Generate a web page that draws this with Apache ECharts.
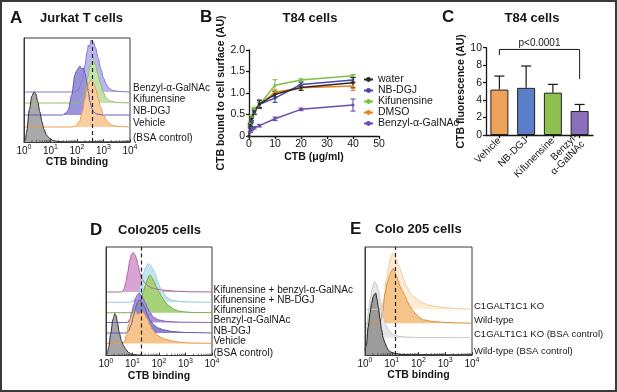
<!DOCTYPE html>
<html>
<head>
<meta charset="utf-8">
<script src="https://cdn.jsdelivr.net/npm/echarts@6/dist/echarts.min.js"></script>
<style>
  html, body { margin: 0; padding: 0; background: #fff; }
  #chart { width: 617px; height: 392px; }
</style>
</head>
<body>
<div id="chart"></div>
<script>
(function() {
  const chart = echarts.init(document.getElementById('chart'));
  const FONT = '"Liberation Sans", Arial, Helvetica, sans-serif';
  const INK = '#161616';

  // A - Jurkat T cells. x = log10(CTB binding), y = events (arbitrary units)
  const jurkatLabels = ['Benzyl-α-GalNAc', 'Kifunensine', 'NB-DGJ', 'Vehicle', '(BSA control)'];
  const jurkatBenzyl = [[0,0],[1.9,0],[2.05,2],[2.18,10],[2.3,27],[2.38,40],[2.43,47],[2.47,45],[2.53,52],[2.58,50],[2.63,49],[2.7,44],[2.8,34],[2.9,23],[3.0,14],[3.1,8],[3.2,4],[3.35,1.5],[3.6,0.5],[4,0]];
  const jurkatKif = [[0,0],[2.0,0],[2.2,3],[2.3,10],[2.4,25],[2.48,36],[2.55,41],[2.62,42],[2.7,38],[2.78,30],[2.88,20],[2.98,11],[3.1,5],[3.25,2],[3.5,0.5],[4,0]];
  const jurkatNBDGJ = [[0,0],[1.45,0],[1.58,2],[1.67,5],[1.8,20],[1.92,40],[1.98,44],[2.05,47],[2.11,49],[2.18,46],[2.24,47],[2.3,42],[2.37,33],[2.43,23],[2.49,13],[2.56,7],[2.62,3],[2.75,1],[3.0,0],[4,0]];
  const jurkatVehicle = [[0,0],[1.8,0],[1.95,1],[2.1,6],[2.2,15],[2.3,28],[2.38,39],[2.45,44],[2.5,46],[2.55,47],[2.6,45],[2.66,42],[2.72,37],[2.8,29],[2.9,19],[3.0,12],[3.1,7],[3.2,4],[3.35,1.5],[3.6,0.5],[4,0]];
  const jurkatBSA = [[0,0],[0.05,2],[0.1,10],[0.2,32],[0.3,46],[0.38,50],[0.45,48],[0.52,40],[0.6,30],[0.68,20],[0.75,13],[0.85,7],[0.95,4],[1.1,1.5],[1.3,0.5],[1.6,0],[4,0]];
  const jurkatCutoff = 2.57;

  // B - T84 cells, dose response
  const ctbDose = [0, 0.5, 1, 2, 4, 10, 20, 40];
  const t84Names = ['water', 'NB-DGJ', 'Kifunensine', 'DMSO', 'Benzyl-α-GalNAc'];
  const t84Water = [0, 0.25, 0.40, 0.57, 0.74, 0.97, 1.13, 1.24];
  const t84WaterSd = [0, 0.04, 0.05, 0.06, 0.08, 0.06, 0.07, 0.12];
  const t84NBDGJ = [0, 0.22, 0.36, 0.55, 0.74, 0.88, 1.20, 1.30];
  const t84NBDGJSd = [0, 0.04, 0.05, 0.05, 0.10, 0.10, 0.05, 0.06];
  const t84Kif = [0, 0.28, 0.44, 0.62, 0.72, 1.18, 1.30, 1.40];
  const t84KifSd = [0, 0.04, 0.04, 0.05, 0.05, 0.13, 0.03, 0.03];
  const t84DMSO = [0, 0.24, 0.40, 0.55, 0.72, 1.02, 1.12, 1.16];
  const t84DMSOSd = [0, 0.04, 0.05, 0.05, 0.06, 0.05, 0.05, 0.10];
  const t84Benzyl = [0, 0.10, 0.14, 0.19, 0.24, 0.40, 0.62, 0.72];
  const t84BenzylSd = [0, 0.02, 0.02, 0.03, 0.03, 0.04, 0.03, 0.14];

  // C - T84 cells, CTB fluorescence
  const t84Groups = ['Vehicle', 'NB-DGJ', 'Kifunensine', 'Benzyl-\nα-GalNAc'];
  const t84Fluor = [5.2, 5.4, 4.85, 2.75];
  const t84FluorSd = [1.55, 2.5, 0.95, 0.75];
  const t84Bracket = [[0, 3, 9.8, 9.15, 6.4]];
  const t84P = 'p<0.0001';

  // D - Colo205 cells
  const coloLabels = ['Kifunensine + benzyl-α-GalNAc', 'Kifunensine + NB-DGJ', 'Kifunensine', 'Benzyl-α-GalNAc', 'NB-DGJ', 'Vehicle', '(BSA control)'];
  const coloKifBenzyl = [[0,0],[0.6,0],[0.68,3],[0.75,10],[0.82,20],[0.9,32],[0.97,38],[1.03,39.5],[1.1,37],[1.16,33],[1.22,26],[1.28,19],[1.36,13],[1.47,9],[1.6,6],[1.72,4],[2.0,2.5],[2.3,1.5],[2.7,0.7],[3.2,0.2],[4,0]];
  const coloKifNBDGJ = [[0,0],[0.9,0],[1.05,2],[1.15,5],[1.22,9],[1.32,19],[1.41,29],[1.5,35],[1.6,39],[1.67,37],[1.75,34],[1.85,29],[1.95,21],[2.04,15],[2.15,10],[2.29,5],[2.5,2],[2.8,0.8],[3.2,0.2],[4,0]];
  const coloKif = [[0,0],[1.0,0],[1.1,2],[1.2,6],[1.3,12],[1.4,20],[1.48,27],[1.56,33],[1.62,37],[1.68,37.5],[1.74,35],[1.82,31],[1.9,26],[2.0,21],[2.1,16],[2.25,10],[2.42,6],[2.6,3],[2.8,1.2],[3.2,0.3],[4,0]];
  const coloBenzyl = [[0,0],[0.8,0],[0.9,3],[0.97,10],[1.05,18],[1.13,25],[1.2,28],[1.27,29],[1.33,27],[1.4,24],[1.48,20],[1.56,15],[1.66,10],[1.8,5],[2.0,2.5],[2.3,1],[2.8,0.3],[4,0]];
  const coloNBDGJ = [[0,0],[0.75,0],[0.85,2],[0.95,8],[1.03,16],[1.1,24],[1.18,30],[1.25,33],[1.32,32],[1.4,29],[1.47,25],[1.55,19],[1.66,13],[1.8,8],[1.97,5],[2.2,3],[2.5,1.5],[3,0.5],[4,0]];
  const coloVehicle = [[0,0],[0.6,0],[0.7,2],[0.78,9],[0.85,19],[0.93,26],[1.0,30],[1.08,33],[1.14,31],[1.2,29],[1.27,30],[1.33,31],[1.4,32],[1.46,29],[1.55,25],[1.65,19],[1.75,14],[1.88,10],[2.0,7],[2.2,4.5],[2.5,2.5],[2.8,1.2],[3.2,0.5],[4,0]];
  const coloBSA = [[0,0],[0.05,2],[0.1,8],[0.18,22],[0.26,36],[0.33,42],[0.38,40],[0.44,32],[0.5,23],[0.58,15],[0.66,10],[0.75,6],[0.85,3],[1.0,1],[1.3,0.3],[1.6,0],[4,0]];
  const coloCutoff = 1.32;

  // E - Colo 205 cells, C1GALT1C1 knockout
  const koLabels = ['C1GALT1C1 KO', 'Wild-type', 'C1GALT1C1 KO (BSA control)', 'Wild-type (BSA control)'];
  const koCtb = [[0,0],[0.5,0],[0.6,1],[0.7,8],[0.8,30],[0.88,42],[0.96,51],[1.02,55],[1.06,56],[1.12,53],[1.18,49],[1.27,43],[1.37,36],[1.46,29],[1.56,22.5],[1.68,17],[1.81,12.7],[2.0,9],[2.18,6],[2.4,4.2],[2.68,2.7],[3.0,1.6],[3.3,1],[3.7,0.4],[4,0]];
  const wtCtb = [[0,0],[0.5,0],[0.58,2],[0.66,12],[0.75,30],[0.83,40],[0.91,47],[0.98,52],[1.06,55],[1.12,51],[1.18,47],[1.25,42],[1.31,37],[1.4,32],[1.5,27],[1.6,21],[1.68,17],[1.8,12],[1.93,8.5],[2.05,5.5],[2.18,3.5],[2.5,2],[2.9,1],[3.4,0.4],[4,0]];
  const koBSA = [[0,3],[0.06,11],[0.12,24],[0.19,38],[0.26,48],[0.33,55],[0.37,56],[0.42,54],[0.5,48],[0.58,36],[0.68,21],[0.78,13],[0.87,8],[0.96,5],[1.06,3],[1.25,1.5],[1.5,0.7],[2,0.2],[4,0]];
  const wtBSA = [[0,4],[0.05,10],[0.12,28],[0.19,42],[0.25,52],[0.3,58],[0.36,61],[0.4,62],[0.45,56],[0.5,48],[0.56,36],[0.62,25],[0.68,17],[0.75,12],[0.81,8],[0.87,5],[0.96,3],[1.06,2],[1.3,0.8],[1.7,0.2],[4,0]];
  const koCutoff = 1.12;

  const minorPerDecade = [2, 3, 4, 5, 6, 7, 8, 9];

  // grids: 0 A, 1 B, 2 C, 3 D, 4 E
  const grids = [
    { left: 24, top: 38, width: 106, height: 104 },
    { left: 249, top: 50, width: 130, height: 86 },
    { left: 486, top: 47.7, width: 107, height: 87.3 },
    { left: 106, top: 247, width: 106, height: 108.5 },
    { left: 365, top: 247, width: 107, height: 108 }
  ];

  const histPanels = [
    { id: 'A', grid: 0, ymax: 104, cutoff: jurkatCutoff, labelDy: -4, gap: 3, fontSize: 10, traces: [
      { label: jurkatLabels[0], pts: jurkatBenzyl, base: 50, fill: '#bdb6ea', line: '#8076cc' },
      { label: jurkatLabels[1], pts: jurkatKif, base: 39, fill: '#c6e2ab', line: '#8fc167' },
      { label: jurkatLabels[2], pts: jurkatNBDGJ, base: 27, fill: '#9b94da', line: '#625ac0' },
      { label: jurkatLabels[3], pts: jurkatVehicle, base: 15, fill: '#f9cd9c', line: '#eb9d52' },
      { label: jurkatLabels[4], pts: jurkatBSA, base: 0, fill: '#a9a9a9', line: '#2e2e2e' }
    ]},
    { id: 'D', grid: 3, ymax: 108.5, cutoff: coloCutoff, labelDy: -2.2, gap: 1.5, fontSize: 10, traces: [
      { label: coloLabels[0], pts: coloKifBenzyl, base: 63.5, fill: '#d8a4d4', line: '#b2629f' },
      { label: coloLabels[1], pts: coloKifNBDGJ, base: 53.2, fill: '#c6e4ef', line: '#95cbe0' },
      { label: coloLabels[2], pts: coloKif, base: 42.8, fill: '#a6d279', line: '#6fae45' },
      { label: coloLabels[3], pts: coloBenzyl, base: 33, fill: '#a893da', line: '#7a5fc0' },
      { label: coloLabels[4], pts: coloNBDGJ, base: 22.5, fill: '#8b87cf', line: '#5e58b5' },
      { label: coloLabels[5], pts: coloVehicle, base: 12, fill: '#f7c48c', line: '#e49a4a' },
      { label: coloLabels[6], pts: coloBSA, base: 0, fill: '#a6a6a6', line: '#333333' }
    ]},
    { id: 'E', grid: 4, ymax: 108, cutoff: koCutoff, labelDy: -3.4, gap: 2, fontSize: 9.5, traces: [
      { label: koLabels[0], pts: koCtb, base: 45.7, fill: '#fdebd6', line: '#f4c894' },
      { label: koLabels[1], pts: wtCtb, base: 31.7, fill: '#f5c48a', line: '#d88e3e' },
      { label: koLabels[2], pts: koBSA, base: 17.3, fill: '#e6e6e6', line: '#c6c6c6' },
      { label: koLabels[3], pts: wtBSA, base: 0, fill: '#9c9c9c', line: '#1e1e1e' }
    ]}
  ];

  const xAxes = [];
  const yAxes = [];
  const series = [];

  function histAxes(p) {
    xAxes[p.grid] = {
      type: 'value', gridIndex: p.grid, min: 0, max: 4, interval: 1, z: 10,
      axisLine: { show: true, lineStyle: { color: '#3a3a3a', width: 1 } },
      axisTick: { show: true, inside: true, length: 3, lineStyle: { color: '#3a3a3a' } },
      splitLine: { show: false },
      axisLabel: {
        margin: 2,
        formatter: v => '{b|10}{s|' + v + '}',
        rich: {
          b: { fontSize: 10, lineHeight: 12, verticalAlign: 'bottom', fontFamily: FONT, color: INK },
          s: { fontSize: 7, lineHeight: 7, verticalAlign: 'top', fontFamily: FONT, color: INK }
        }
      },
      name: 'CTB binding', nameLocation: 'middle', nameGap: 15,
      nameTextStyle: { fontWeight: 'bold', fontSize: 10.5, fontFamily: FONT, color: INK }
    };
    yAxes[p.grid] = {
      type: 'value', gridIndex: p.grid, min: 0, max: p.ymax, z: 10,
      axisLine: { show: true, lineStyle: { color: '#3a3a3a', width: 1 } },
      axisTick: { show: false }, axisLabel: { show: false }, splitLine: { show: false }
    };
  }

  function histSeries(p) {
    p.traces.forEach((t, i) => {
      series.push({
        type: 'line', name: p.id + '-' + i, xAxisIndex: p.grid, yAxisIndex: p.grid,
        data: t.pts.map(pt => [pt[0], t.base + pt[1]]),
        symbol: 'none', smooth: 0.3, smoothMonotone: 'x', silent: true,
        lineStyle: { color: t.line, width: 1 },
        areaStyle: { color: t.fill, opacity: 1, origin: t.base },
        endLabel: {
          show: true, formatter: t.label, distance: p.gap, offset: [0, p.labelDy],
          color: INK, fontSize: p.fontSize, fontFamily: FONT
        }
      });
    });
    series[series.length - 1].markLine = {
      silent: true, symbol: ['none', 'none'], label: { show: false },
      lineStyle: { color: '#222', width: 1.2, type: [4, 3] },
      data: [{ xAxis: p.cutoff }]
    };
    const ticks = [];
    for (let d = 0; d < 4; d++) {
      minorPerDecade.forEach(k => ticks.push([d + Math.log10(k), 0]));
    }
    series.push({
      type: 'custom', xAxisIndex: p.grid, yAxisIndex: p.grid, data: ticks, silent: true, z: 10,
      renderItem: (params, api) => {
        const pt = api.coord([api.value(0), 0]);
        return { type: 'line', shape: { x1: pt[0], y1: pt[1], x2: pt[0], y2: pt[1] - 1.8 },
          style: { stroke: '#3a3a3a', lineWidth: 0.8 } };
      }
    });
  }

  histPanels.forEach(p => { histAxes(p); histSeries(p); });

  // B axes
  xAxes[1] = {
    type: 'value', gridIndex: 1, min: 0, max: 50, interval: 10,
    axisLine: { show: true, lineStyle: { color: INK, width: 1.3 } },
    axisTick: { show: true, length: 3, lineStyle: { color: INK, width: 1.3 } },
    splitLine: { show: false },
    axisLabel: { fontSize: 10.5, margin: 3, color: INK, fontFamily: FONT },
    name: 'CTB (μg/ml)', nameLocation: 'middle', nameGap: 16,
    nameTextStyle: { fontWeight: 'bold', fontSize: 10.5, fontFamily: FONT, color: INK }
  };
  yAxes[1] = {
    type: 'value', gridIndex: 1, min: 0, max: 2, interval: 0.5,
    axisLine: { show: true, lineStyle: { color: INK, width: 1.3 } },
    axisTick: { show: true, length: 3, lineStyle: { color: INK, width: 1.3 } },
    splitLine: { show: false },
    axisLabel: { fontSize: 10.5, margin: 4, color: INK, fontFamily: FONT,
      formatter: v => v === 0 ? '0' : v.toFixed(1) },
    name: 'CTB bound to cell surface (AU)', nameLocation: 'middle', nameGap: 21,
    nameTextStyle: { fontWeight: 'bold', fontSize: 10.5, fontFamily: FONT, color: INK }
  };

  const t84Lines = [
    { name: t84Names[4], vals: t84Benzyl, sd: t84BenzylSd, color: '#6a4db0' },
    { name: t84Names[3], vals: t84DMSO, sd: t84DMSOSd, color: '#e8821e' },
    { name: t84Names[2], vals: t84Kif, sd: t84KifSd, color: '#7cc142' },
    { name: t84Names[1], vals: t84NBDGJ, sd: t84NBDGJSd, color: '#4848aa' },
    { name: t84Names[0], vals: t84Water, sd: t84WaterSd, color: '#2a2a2a' }
  ];
  t84Lines.forEach(l => {
    series.push({
      type: 'custom', xAxisIndex: 1, yAxisIndex: 1, silent: true, z: 3,
      data: ctbDose.map((x, i) => [x, l.vals[i], l.sd[i]]),
      renderItem: (params, api) => {
        const sd = api.value(2);
        if (!sd) return null;
        const lo = api.coord([api.value(0), api.value(1) - sd]);
        const hi = api.coord([api.value(0), api.value(1) + sd]);
        const st = { stroke: l.color, lineWidth: 1.1 };
        return { type: 'group', children: [
          { type: 'line', shape: { x1: lo[0], y1: lo[1], x2: hi[0], y2: hi[1] }, style: st },
          { type: 'line', shape: { x1: lo[0] - 2.5, y1: lo[1], x2: lo[0] + 2.5, y2: lo[1] }, style: st },
          { type: 'line', shape: { x1: hi[0] - 2.5, y1: hi[1], x2: hi[0] + 2.5, y2: hi[1] }, style: st }
        ]};
      }
    });
    series.push({
      type: 'line', name: l.name, xAxisIndex: 1, yAxisIndex: 1, z: 3,
      data: ctbDose.map((x, i) => [x, l.vals[i]]),
      symbol: 'circle', symbolSize: 3, color: l.color,
      lineStyle: { color: l.color, width: 1.5 },
      itemStyle: { color: l.color }
    });
  });

  // C axes
  xAxes[2] = {
    type: 'category', gridIndex: 2, data: t84Groups,
    axisLine: { show: true, lineStyle: { color: INK, width: 1.3 } },
    axisTick: { show: true, alignWithLabel: true, length: 3, lineStyle: { color: INK, width: 1.3 } },
    axisLabel: { rotate: 45, interval: 0, fontSize: 10, margin: 4, color: INK, fontFamily: FONT, lineHeight: 10 }
  };
  yAxes[2] = {
    type: 'value', gridIndex: 2, min: 0, max: 10, interval: 2,
    axisLine: { show: true, lineStyle: { color: INK, width: 1.3 } },
    axisTick: { show: true, length: 3, lineStyle: { color: INK, width: 1.3 } },
    splitLine: { show: false },
    axisLabel: { fontSize: 10.5, margin: 4, color: INK, fontFamily: FONT },
    name: 'CTB fluorescence (AU)', nameLocation: 'middle', nameGap: 17,
    nameTextStyle: { fontWeight: 'bold', fontSize: 10.5, fontFamily: FONT, color: INK }
  };

  const barColors = ['#eea35a', '#5b7ec8', '#8dc04f', '#8a6fba'];
  series.push({
    type: 'bar', xAxisIndex: 2, yAxisIndex: 2, barWidth: 18, silent: true,
    data: t84Fluor.map((v, i) => ({ value: v, itemStyle: { color: barColors[i] } })),
    itemStyle: { borderColor: '#222', borderWidth: 1 }
  });
  series.push({
    type: 'custom', xAxisIndex: 2, yAxisIndex: 2, silent: true, z: 3,
    data: t84Fluor.map((v, i) => [i, v, t84FluorSd[i]]),
    renderItem: (params, api) => {
      const a = api.coord([api.value(0), api.value(1)]);
      const b = api.coord([api.value(0), api.value(1) + api.value(2)]);
      const st = { stroke: INK, lineWidth: 1.2 };
      return { type: 'group', children: [
        { type: 'line', shape: { x1: a[0], y1: a[1], x2: b[0], y2: b[1] }, style: st },
        { type: 'line', shape: { x1: b[0] - 5, y1: b[1], x2: b[0] + 5, y2: b[1] }, style: st }
      ]};
    }
  });
  series.push({
    type: 'custom', xAxisIndex: 2, yAxisIndex: 2, silent: true, z: 3,
    data: t84Bracket,
    renderItem: (params, api) => {
      const l = api.coord([api.value(0), api.value(3)]);
      const lt = api.coord([api.value(0), api.value(2)]);
      const rt = api.coord([api.value(1), api.value(2)]);
      const r = api.coord([api.value(1), api.value(4)]);
      const tx = api.coord([api.value(0), api.value(2) + 0.75]);
      return { type: 'group', children: [
        { type: 'polyline', shape: { points: [l, lt, rt, r] }, style: { stroke: INK, lineWidth: 1, fill: null } },
        { type: 'text', x: (lt[0] + rt[0]) / 2, y: tx[1],
          style: { text: t84P, textAlign: 'center', textVerticalAlign: 'middle', font: '10px ' + FONT, fill: INK } }
      ]};
    }
  });

  function label(text, x, y, size, align) {
    return { type: 'text', x: x, y: y, silent: true,
      style: { text: text, font: 'bold ' + size + 'px ' + FONT, fill: INK,
        textAlign: align || 'left', textVerticalAlign: 'middle' } };
  }

  const option = {
    animation: false,
    backgroundColor: '#fff',
    textStyle: { fontFamily: FONT },
    grid: grids.map((g, i) => Object.assign({
      show: [0, 3, 4].indexOf(i) >= 0, borderColor: '#3a3a3a', borderWidth: 1,
      backgroundColor: 'transparent', containLabel: false
    }, g)),
    xAxis: xAxes,
    yAxis: yAxes,
    legend: {
      data: t84Names, orient: 'vertical', left: 363, top: 74, padding: 0,
      itemWidth: 9, itemHeight: 6, itemGap: 0,
      textStyle: { fontSize: 10.5, lineHeight: 8.6, color: INK, fontFamily: FONT }
    },
    graphic: [
      { type: 'rect', silent: true, shape: { x: 1, y: 1, width: 615, height: 390 },
        style: { fill: 'none', stroke: '#3a3a3a', lineWidth: 2 } },
      label('A', 10, 18, 17), label('Jurkat T cells', 40, 18, 13),
      label('B', 200, 17, 17), label('T84 cells', 310, 18, 13, 'center'),
      label('C', 442, 17, 17), label('T84 cells', 532, 18, 13, 'center'),
      label('D', 90, 230, 17), label('Colo205 cells', 118, 230, 13),
      label('E', 350, 229, 17), label('Colo 205 cells', 375, 229, 13)
    ],
    series: series
  };

  chart.setOption(option);
}());
</script>
</body>
</html>
